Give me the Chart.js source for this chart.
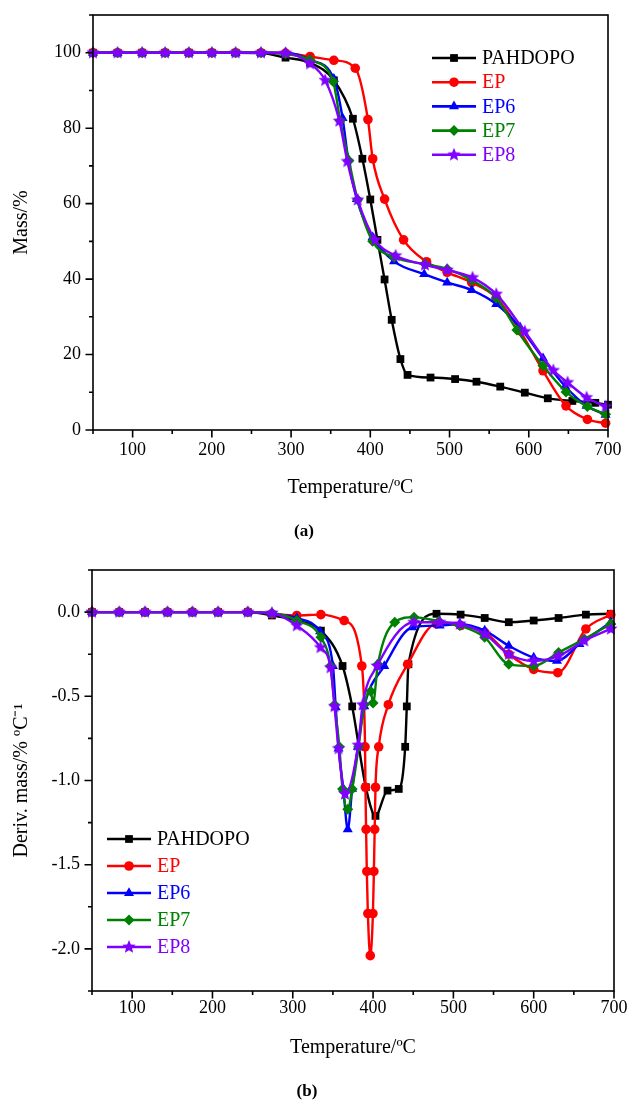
<!DOCTYPE html>
<html>
<head>
<meta charset="UTF-8" />
<script src="https://cdn.jsdelivr.net/npm/chart.js@4"></script>
<style>
  body, html { margin: 0; padding: 0; background: #ffffff; overflow: hidden; }
  .box { position: absolute; left: 0; width: 627px; height: 550px; }
</style>
</head>
<body>
<div class="box" style="top:0"><canvas id="tga" width="627" height="550"></canvas></div>
<div class="box" style="top:550px"><canvas id="dtg" width="627" height="550"></canvas></div>
<script>
// ---- (a) TGA: mass % vs temperature ----
const tgaTempPahdopo = [50, 81, 112, 141, 171, 200, 230, 262, 293, 324, 354, 378, 390, 400, 409, 418, 427, 438, 447, 476, 507, 534, 564, 595, 624, 655, 684, 700];
const tgaMassPahdopo = [100, 100, 100, 100, 100, 100, 100, 99.9, 98.7, 97.3, 92.7, 82.5, 71.9, 61.1, 50.4, 39.9, 29.2, 18.8, 14.6, 13.9, 13.5, 12.8, 11.5, 9.9, 8.4, 7.7, 7.2, 6.7];
const tgaTempEp = [50, 81, 112, 141, 171, 200, 230, 262, 293, 324, 354, 381, 397, 403, 418, 442, 471, 497, 528, 559, 589, 618, 647, 674, 697];
const tgaMassEp = [100, 100, 100, 100, 100, 100, 100, 100, 99.9, 99.0, 98.0, 95.9, 82.3, 71.9, 61.2, 50.4, 44.6, 41.8, 39.1, 35.1, 26.3, 15.7, 6.4, 2.8, 1.8];
const tgaTempEp6 = [50, 81, 112, 141, 171, 200, 230, 262, 293, 324, 354, 365, 372, 383, 403, 430, 468, 497, 528, 559, 589, 618, 646, 673, 697];
const tgaMassEp6 = [100, 100, 100, 100, 100, 100, 100, 100, 100, 98.1, 93.1, 82.7, 71.9, 61.2, 51.1, 44.7, 41.3, 39.1, 37.1, 33.4, 27.2, 19.0, 11.6, 6.4, 4.0];
const tgaTempEp7 = [50, 81, 112, 141, 171, 200, 230, 262, 293, 324, 353, 362, 373, 384, 403, 430, 469, 497, 528, 559, 585, 618, 647, 674, 697];
const tgaMassEp7 = [100, 100, 100, 100, 100, 100, 100, 100, 99.7, 98.1, 92.4, 82.0, 71.4, 61.0, 50.0, 45.8, 44.0, 42.7, 39.7, 35.0, 26.5, 17.0, 10.1, 6.2, 4.2];
const tgaTempEp8 = [50, 81, 112, 141, 171, 200, 230, 262, 293, 324, 343, 361, 371, 384, 406, 432, 469, 497, 529, 559, 595, 631, 649, 673, 697];
const tgaMassEp8 = [100, 100, 100, 100, 100, 100, 100, 100, 99.9, 97.1, 92.7, 81.9, 71.2, 61.0, 50.4, 46.2, 43.8, 42.4, 40.4, 36.0, 26.1, 15.8, 12.6, 8.6, 6.2];

// ---- (b) DTG: derivative mass vs temperature ----
const dtgTempPahdopo = [50, 84, 116, 144, 175, 207, 244, 274, 305, 335, 362, 374, 391, 403, 418, 432, 440, 442, 444, 479, 509, 539, 569, 600, 631, 665, 696];
const dtgDerivPahdopo = [0, 0, 0, 0, 0, 0, 0, -0.02, -0.05, -0.11, -0.32, -0.56, -1.04, -1.21, -1.06, -1.05, -0.80, -0.56, -0.31, -0.01, -0.015, -0.035, -0.06, -0.05, -0.035, -0.015, -0.01];
const dtgTempEp = [50, 84, 116, 144, 175, 207, 244, 274, 305, 335, 364, 386, 390, 390.5, 391.3, 392.2, 393.5, 396.5, 399.8, 401, 402, 403, 407, 419, 443, 479, 509, 539, 569, 600, 630, 665, 696];
const dtgDerivEp = [0, 0, 0, 0, 0, 0, 0, -0.01, -0.02, -0.015, -0.05, -0.32, -0.80, -1.04, -1.29, -1.54, -1.79, -2.04, -1.79, -1.54, -1.29, -1.04, -0.80, -0.55, -0.31, -0.07, -0.08, -0.12, -0.25, -0.34, -0.36, -0.10, -0.015];
const dtgTempEp6 = [50, 84, 116, 144, 175, 207, 244, 274, 305, 334, 350, 353.5, 357, 363, 368.5, 374, 381, 389, 414, 449, 483, 508, 539, 569, 600, 629, 657, 696];
const dtgDerivEp6 = [0, 0, 0, 0, 0, 0, 0, -0.01, -0.035, -0.115, -0.32, -0.565, -0.81, -1.05, -1.29, -1.05, -0.80, -0.56, -0.32, -0.09, -0.08, -0.07, -0.11, -0.20, -0.27, -0.29, -0.19, -0.06];
const dtgTempEp7 = [50, 84, 116, 144, 175, 207, 244, 274, 305, 335, 347, 352, 358, 362, 368.5, 374, 382, 389, 397, 400, 406, 427, 451, 482, 508, 539, 569, 600, 631, 663, 696];
const dtgDerivEp7 = [0, 0, 0, 0, 0, 0, 0, -0.005, -0.05, -0.15, -0.32, -0.55, -0.80, -1.05, -1.17, -1.05, -0.80, -0.55, -0.47, -0.54, -0.31, -0.06, -0.03, -0.055, -0.08, -0.15, -0.31, -0.32, -0.24, -0.16, -0.07];
const dtgTempEp8 = [50, 84, 116, 144, 175, 207, 244, 274, 305, 334.5, 347, 352, 357, 365, 381.5, 387, 405, 450.7, 483, 508, 539, 569, 600, 631, 663, 696];
const dtgDerivEp8 = [0, 0, 0, 0, 0, 0, 0, -0.005, -0.08, -0.21, -0.33, -0.56, -0.81, -1.08, -0.79, -0.55, -0.32, -0.06, -0.06, -0.07, -0.13, -0.25, -0.29, -0.26, -0.17, -0.10];

const seriesNames = ['PAHDOPO', 'EP', 'EP6', 'EP7', 'EP8'];
const seriesColors = ['#000000', '#ff0000', '#0000ff', '#008000', '#8000ff'];

const serif = '"Liberation Serif", "Times New Roman", serif';

function starImage(color, r) {
  const c = document.createElement('canvas');
  const s = Math.ceil(r * 2) + 2;
  c.width = s; c.height = s;
  const g = c.getContext('2d');
  g.fillStyle = color;
  g.beginPath();
  for (let i = 0; i < 10; i++) {
    const rad = i % 2 ? r * 0.45 : r;
    const a = -Math.PI / 2 + i * Math.PI / 5;
    g.lineTo(s / 2 + rad * Math.cos(a), s / 2 + rad * Math.sin(a));
  }
  g.closePath();
  g.fill();
  return c;
}

const markerStyles = ['rect', 'circle', 'triangle', 'rectRot', starImage('#8000ff', 7)];
const markerSizes = [5.5, 4.8, 5.8, 5.5, 7];

function pts(xs, ys) {
  return xs.map((x, i) => ({ x: x, y: ys[i] }));
}

function makeDatasets(pairs) {
  return pairs.map((p, i) => ({
    label: seriesNames[i],
    data: pts(p[0], p[1]),
    borderColor: seriesColors[i],
    backgroundColor: seriesColors[i],
    pointBackgroundColor: seriesColors[i],
    pointBorderColor: seriesColors[i],
    pointBorderWidth: 0,
    pointStyle: markerStyles[i],
    pointRadius: markerSizes[i],
    borderWidth: 2.4,
    cubicInterpolationMode: 'monotone',
    clip: false,
    order: 5 - i
  }));
}

// frame box plus outward major/minor ticks
const frameTicks = {
  id: 'frameTicks',
  afterDraw(chart) {
    const { ctx, chartArea: a, scales } = chart;
    ctx.save();
    ctx.strokeStyle = '#000';
    ctx.lineWidth = 1.6;
    ctx.strokeRect(a.left, a.top, a.right - a.left, a.bottom - a.top);
    ctx.beginPath();
    scales.x.ticks.forEach(t => {
      const px = scales.x.getPixelForValue(t.value);
      const len = t.label ? 7.5 : 4;
      ctx.moveTo(px, a.bottom);
      ctx.lineTo(px, a.bottom + len);
    });
    scales.y.ticks.forEach(t => {
      const py = scales.y.getPixelForValue(t.value);
      const len = t.label ? 7.5 : 4;
      ctx.moveTo(a.left, py);
      ctx.lineTo(a.left - len, py);
    });
    ctx.stroke();
    ctx.restore();
  }
};

// legend: line + marker + coloured name
const lineLegend = {
  id: 'lineLegend',
  afterDraw(chart, args, opts) {
    const ctx = chart.ctx;
    ctx.save();
    chart.data.datasets.forEach((ds, i) => {
      const yy = opts.y + i * opts.gap;
      ctx.strokeStyle = ds.borderColor;
      ctx.lineWidth = 2.6;
      ctx.beginPath();
      ctx.moveTo(opts.x, yy);
      ctx.lineTo(opts.x + 44, yy);
      ctx.stroke();
      ctx.fillStyle = ds.pointBackgroundColor;
      Chart.helpers.drawPoint(ctx, { pointStyle: ds.pointStyle, radius: ds.pointRadius, rotation: 0, borderWidth: 0 }, opts.x + 22, yy);
      ctx.fillStyle = ds.borderColor;
      ctx.font = '20px ' + serif;
      ctx.textBaseline = 'middle';
      ctx.textAlign = 'left';
      ctx.fillText(ds.label, opts.x + 50, yy + 1);
    });
    ctx.restore();
  }
};

function xScale(tickPad, boxH, titlePad) {
  return {
    type: 'linear', min: 50, max: 700,
    grid: { display: false, drawTicks: false },
    border: { display: false },
    ticks: {
      stepSize: 50, padding: tickPad, color: '#000', maxRotation: 0, autoSkip: false,
      font: { family: serif, size: 18 },
      callback: v => (v % 100 === 0 ? String(v) : '')
    },
    title: { display: true, text: 'Temperature/ºC', color: '#000', font: { family: serif, size: 20 }, padding: { top: 0, bottom: titlePad } },
    afterFit: s => { s.height = boxH; s.paddingLeft = 0; s.paddingRight = 0; }
  };
}

function fixY(w) {
  return s => { s.width = w; s.paddingTop = 0; s.paddingBottom = 0; };
}

new Chart(document.getElementById('tga'), {
  type: 'line',
  data: {
    datasets: makeDatasets([
      [tgaTempPahdopo, tgaMassPahdopo],
      [tgaTempEp, tgaMassEp],
      [tgaTempEp6, tgaMassEp6],
      [tgaTempEp7, tgaMassEp7],
      [tgaTempEp8, tgaMassEp8]
    ])
  },
  options: {
    responsive: false,
    animation: false,
    events: [],
    layout: { padding: { top: 15, right: 19, left: 0, bottom: 0 } },
    scales: {
      x: xScale(9, 91.8, 21.8),
      y: {
        type: 'linear', min: 0, max: 110,
        grid: { display: false, drawTicks: false },
        border: { display: false },
        ticks: {
          stepSize: 10, padding: 12, color: '#000', autoSkip: false,
          font: { family: serif, size: 18 },
          callback: v => (v % 20 === 0 ? String(v) : '')
        },
        title: { display: true, text: 'Mass/%', color: '#000', font: { family: serif, size: 20 }, padding: { top: 10, bottom: 0 } },
        afterFit: fixY(93)
      }
    },
    plugins: {
      legend: { display: false },
      tooltip: { enabled: false },
      title: { display: true, text: '(a)', position: 'bottom', color: '#000', font: { family: serif, size: 17, weight: 'bold' }, padding: { top: 0, bottom: 7.8 } },
      lineLegend: { x: 432, y: 58, gap: 24.2 }
    }
  },
  plugins: [frameTicks, lineLegend]
});

new Chart(document.getElementById('dtg'), {
  type: 'line',
  data: {
    datasets: makeDatasets([
      [dtgTempPahdopo, dtgDerivPahdopo],
      [dtgTempEp, dtgDerivEp],
      [dtgTempEp6, dtgDerivEp6],
      [dtgTempEp7, dtgDerivEp7],
      [dtgTempEp8, dtgDerivEp8]
    ])
  },
  options: {
    responsive: false,
    animation: false,
    events: [],
    layout: { padding: { top: 20, right: 13, left: 0, bottom: 0 } },
    scales: {
      x: xScale(6, 90.6, 21.6),
      y: {
        type: 'linear', min: -2.25, max: 0.25,
        grid: { display: false, drawTicks: false },
        border: { display: false },
        ticks: {
          stepSize: 0.25, padding: 12, color: '#000', autoSkip: false,
          font: { family: serif, size: 18 },
          callback: v => (Math.abs(v * 2 - Math.round(v * 2)) < 1e-6 ? v.toFixed(1) : '')
        },
        title: { display: true, text: 'Deriv. mass/% ºC⁻¹', color: '#000', font: { family: serif, size: 20 }, padding: { top: 10, bottom: 0 } },
        afterFit: fixY(92)
      }
    },
    plugins: {
      legend: { display: false },
      tooltip: { enabled: false },
      title: { display: true, text: '(b)', position: 'bottom', color: '#000', font: { family: serif, size: 17, weight: 'bold' }, padding: { top: 0, bottom: -2 } },
      lineLegend: { x: 107, y: 289, gap: 27 }
    }
  },
  plugins: [frameTicks, lineLegend]
});
</script>
</body>
</html>
